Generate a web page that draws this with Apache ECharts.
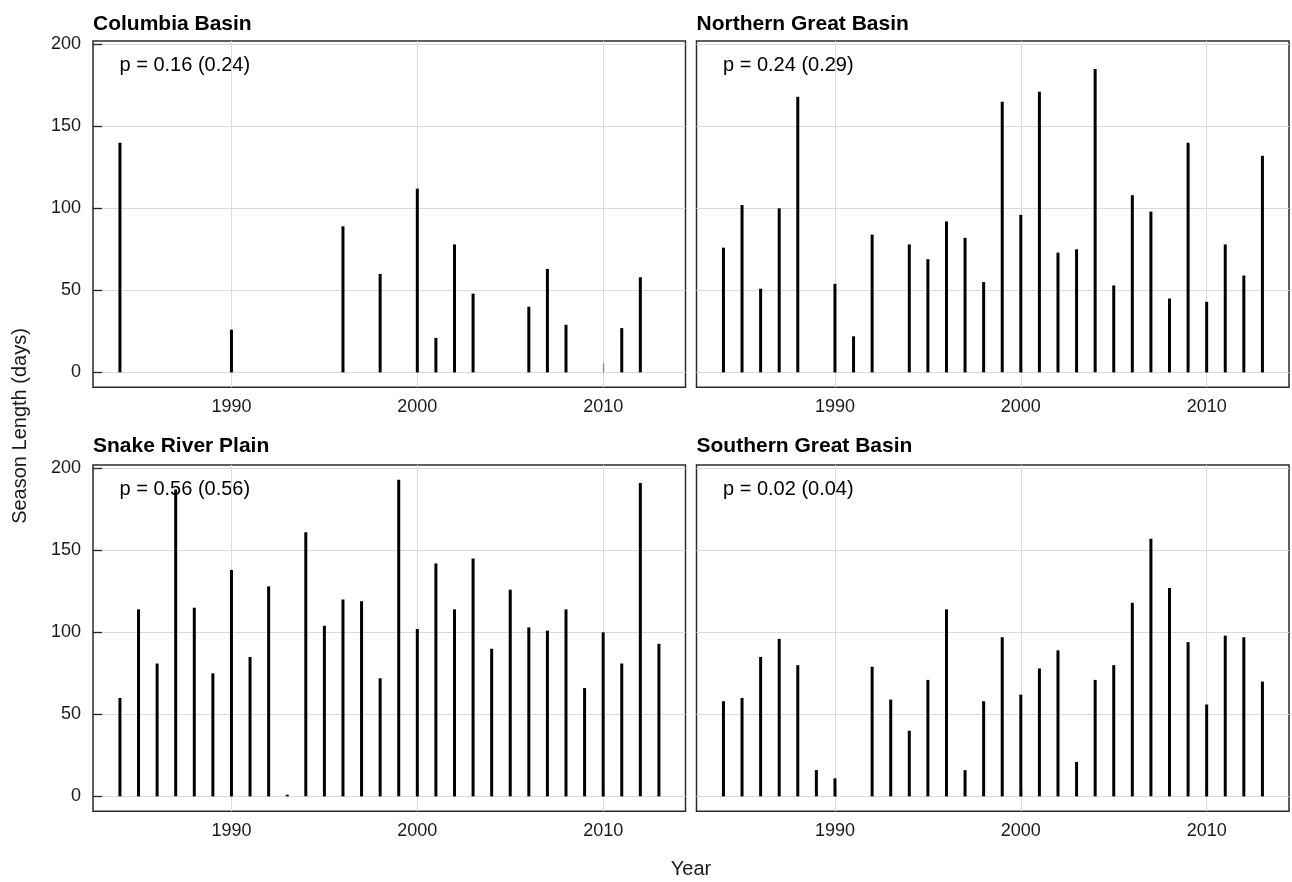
<!DOCTYPE html>
<html>
<head>
<meta charset="utf-8">
<title>Season Length</title>
<script src="https://cdn.jsdelivr.net/npm/echarts@6/dist/echarts.min.js"></script>
<style>
  html, body { margin: 0; padding: 0; background: #fff; }
  #chart { width: 1292px; height: 882px; }
</style>
</head>
<body>
<div id="chart"></div>
<script>
// data (null = no season that year)
const years = [1984, 1985, 1986, 1987, 1988, 1989, 1990, 1991, 1992, 1993,
               1994, 1995, 1996, 1997, 1998, 1999, 2000, 2001, 2002, 2003,
               2004, 2005, 2006, 2007, 2008, 2009, 2010, 2011, 2012, 2013];
const columbiaBasin = [140, null, null, null, null, null, 26, null, null, null,
                       null, null, 89, null, 60, null, 112, 21, 78, 48,
                       null, null, 40, 63, 29, null, null, 27, 58, null];
const northernGreatBasin = [76, 102, 51, 100, 168, null, 54, 22, 84, null,
                            78, 69, 92, 82, 55, 165, 96, 171, 73, 75,
                            185, 53, 108, 98, 45, 140, 43, 78, 59, 132];
const snakeRiverPlain = [60, 114, 81, 187, 115, 75, 138, 85, 128, 1,
                         161, 104, 120, 119, 72, 193, 102, 142, 114, 145,
                         90, 126, 103, 101, 114, 66, 100, 81, 191, 93];
const southernGreatBasin = [58, 60, 85, 96, 80, 16, 11, null, 79, 59,
                            40, 71, 114, 16, 58, 97, 62, 78, 89, 21,
                            71, 80, 118, 157, 127, 94, 56, 98, 97, 70];

const panelNames = ['Columbia Basin', 'Northern Great Basin', 'Snake River Plain', 'Southern Great Basin'];
const pLabels = ['p = 0.16 (0.24)', 'p = 0.24 (0.29)', 'p = 0.56 (0.56)', 'p = 0.02 (0.04)'];
const xTicks = [1990, 2000, 2010];
const yTicks = [0, 50, 100, 150, 200];

const panelValues = [columbiaBasin, northernGreatBasin, snakeRiverPlain, southernGreatBasin];

const FONT = '"Liberation Sans", Arial, Helvetica, sans-serif';
const chart = echarts.init(document.getElementById('chart'));

// panel boxes
const lefts = [93, 696.5, 93, 696.5];
const tops = [41, 41, 465, 465];
const W = 592.5, H = 346.3;

const grids = [], xAxes = [], yAxes = [], series = [], graphics = [];

for (let i = 0; i < 4; i++) {
  const isLeft = i % 2 === 0;
  const isTop = i < 2;
  grids.push({
    left: lefts[i], top: tops[i], width: W, height: H,
    show: true, borderColor: '#2a2a2a', borderWidth: 1.5, backgroundColor: '#fff'
  });
  xAxes.push({
    type: 'value', gridIndex: i, min: 1982.55, max: 2014.43,
    axisLine: { show: false },
    axisTick: {
      show: true, inside: true, length: 9, customValues: xTicks,
      lineStyle: { color: isTop ? '#888' : '#222', width: 1.3 }
    },
    axisLabel: {
      customValues: xTicks, margin: 11, color: '#1a1a1a',
      fontFamily: FONT, fontSize: 18,
      formatter: function (v) { return String(v); }
    },
    splitLine: { show: true, lineStyle: { color: '#dadada', width: 1 } }
  });
  yAxes.push({
    type: 'value', gridIndex: i, min: -9.1, max: 202,
    axisLine: { show: false },
    axisTick: {
      show: isLeft, inside: true, length: 9, customValues: yTicks,
      lineStyle: { color: '#222', width: 1.3 }
    },
    axisLabel: {
      show: isLeft, customValues: yTicks, margin: 12, color: '#1a1a1a',
      fontFamily: FONT, fontSize: 18
    },
    splitLine: { show: true, lineStyle: { color: '#dadada', width: 1 } }
  });

  const pts = [];
  years.forEach((y, k) => {
    if (panelValues[i][k] != null) pts.push([y, panelValues[i][k]]);
  });
  series.push({
    type: 'custom', name: panelNames[i],
    xAxisIndex: i, yAxisIndex: i,
    data: pts,
    renderItem: function (params, api) {
      const base = api.coord([api.value(0), 0]);
      const tip = api.coord([api.value(0), api.value(1)]);
      return {
        type: 'line',
        shape: { x1: base[0], y1: base[1], x2: tip[0], y2: tip[1] },
        style: { stroke: '#000', lineWidth: 3 }
      };
    }
  });

  // panel title
  graphics.push({
    type: 'text', left: lefts[i], top: tops[i] - (isTop ? 27 : 29),
    style: { text: panelNames[i], fill: '#000', font: 'bold 21px ' + FONT }
  });
  // p value annotation
  graphics.push({
    type: 'text', left: lefts[i] + 26.5, top: tops[i] + 14,
    style: { text: pLabels[i], fill: '#000', font: '20px ' + FONT }
  });
}

graphics.push({
  type: 'text', x: 691, y: 869,
  style: { text: 'Year', fill: '#1a1a1a', font: '20px ' + FONT,
           align: 'center', verticalAlign: 'middle' }
});
graphics.push({
  type: 'text', x: 20, y: 426, rotation: Math.PI / 2,
  style: { text: 'Season Length (days)', fill: '#1a1a1a', font: '20px ' + FONT,
           align: 'center', verticalAlign: 'middle' }
});

chart.setOption({
  animation: false,
  backgroundColor: '#fff',
  grid: grids,
  xAxis: xAxes,
  yAxis: yAxes,
  series: series,
  graphic: graphics
});
</script>
</body>
</html>
